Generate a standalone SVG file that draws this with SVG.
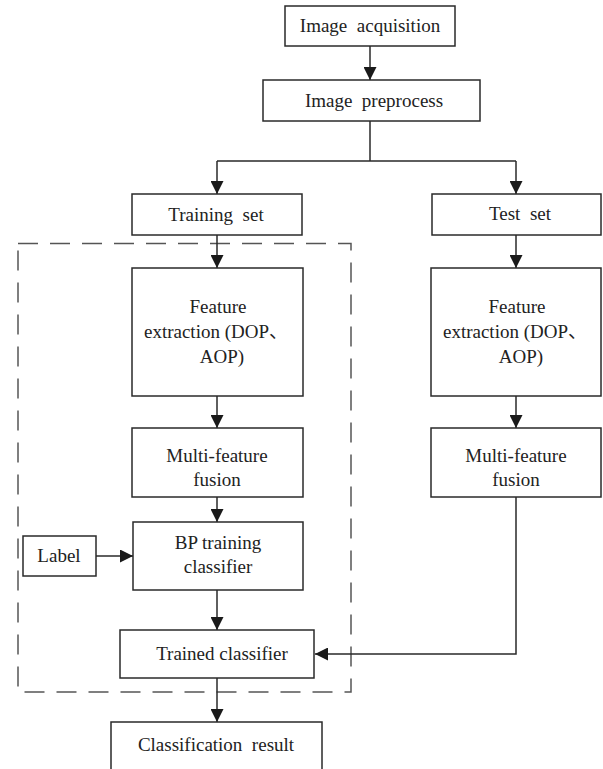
<svg xmlns="http://www.w3.org/2000/svg" width="603" height="769" viewBox="0 0 603 769" font-family="Liberation Serif, DejaVu Serif, serif">
<style>
.box{fill:#fff;stroke:#2a2a2a;stroke-width:1.5}
.t{font-size:19px;fill:#222;text-anchor:middle;white-space:pre}
.c{fill:none;stroke:#2a2a2a;stroke-width:1.5}
.d{fill:none;stroke:#555;stroke-width:1.5;stroke-dasharray:20 12}
</style>
<defs>
<marker id="ah" markerWidth="13" markerHeight="13" refX="13" refY="6.5" orient="auto" markerUnits="userSpaceOnUse">
<path d="M0,0 L13,6.5 L0,13 Z" fill="#1a1a1a"/>
</marker>
</defs>
<rect id="training-frame" class="d" x="18" y="243.5" width="333" height="448.5"/>
<g id="connectors">
<path class="c" d="M370,46 V80" marker-end="url(#ah)"/>
<path class="c" d="M370,121 V161 M217,161 H516"/>
<path class="c" d="M217,161 V194" marker-end="url(#ah)"/>
<path class="c" d="M516,161 V194" marker-end="url(#ah)"/>
<path class="c" d="M217,235 V268" marker-end="url(#ah)"/>
<path class="c" d="M217,396 V428" marker-end="url(#ah)"/>
<path class="c" d="M217,497 V522" marker-end="url(#ah)"/>
<path class="c" d="M96,556 H133" marker-end="url(#ah)"/>
<path class="c" d="M217,590 V630" marker-end="url(#ah)"/>
<path class="c" d="M217,678 V722" marker-end="url(#ah)"/>
<path class="c" d="M516,235 V268" marker-end="url(#ah)"/>
<path class="c" d="M516,396 V428" marker-end="url(#ah)"/>
<path class="c" d="M516,497 V654 H315" marker-end="url(#ah)"/>
</g>
<g id="image-acquisition"><rect class="box" x="285" y="6" width="170" height="40"/><text class="t" x="370" y="32">Image  acquisition</text></g>
<g id="image-preprocess"><rect class="box" x="263" y="80" width="217" height="41"/><text class="t" x="374" y="107">Image  preprocess</text></g>
<g id="training-set"><rect class="box" x="132" y="194" width="170" height="41"/><text class="t" x="216" y="221">Training  set</text></g>
<g id="test-set"><rect class="box" x="432" y="194" width="169" height="41"/><text class="t" x="520" y="220">Test  set</text></g>
<g id="feature-extraction-train"><rect class="box" x="132" y="268" width="171" height="128"/><text class="t" x="218" y="313">Feature</text><text class="t" x="216" y="338">extraction (DOP<tspan font-family="Noto Sans CJK SC, sans-serif">、</tspan></text><text class="t" x="222" y="363">AOP)</text></g>
<g id="feature-extraction-test"><rect class="box" x="431" y="268" width="170" height="128"/><text class="t" x="517" y="313">Feature</text><text class="t" x="515" y="338">extraction (DOP<tspan font-family="Noto Sans CJK SC, sans-serif">、</tspan></text><text class="t" x="521" y="363">AOP)</text></g>
<g id="fusion-train"><rect class="box" x="132" y="428" width="171" height="69"/><text class="t" x="217" y="462">Multi-feature</text><text class="t" x="217" y="486">fusion</text></g>
<g id="fusion-test"><rect class="box" x="431" y="428" width="170" height="69"/><text class="t" x="516" y="462">Multi-feature</text><text class="t" x="516" y="486">fusion</text></g>
<g id="label"><rect class="box" x="23" y="536" width="73" height="40"/><text class="t" x="59" y="562">Label</text></g>
<g id="bp-classifier"><rect class="box" x="133" y="522" width="170" height="68"/><text class="t" x="218" y="549">BP training</text><text class="t" x="218" y="573">classifier</text></g>
<g id="trained-classifier"><rect class="box" x="120" y="630" width="194" height="48"/><text class="t" x="222" y="660">Trained classifier</text></g>
<g id="classification-result"><rect class="box" x="111" y="722" width="211" height="52"/><text class="t" x="216" y="751">Classification  result</text></g>
</svg>
